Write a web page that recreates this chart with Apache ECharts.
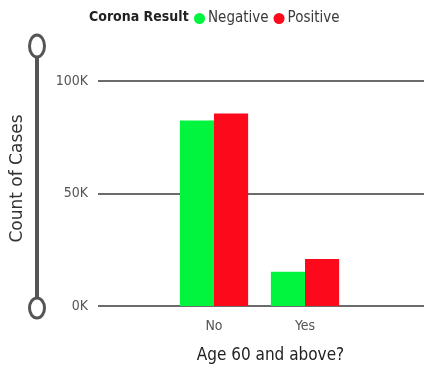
<!DOCTYPE html>
<html>
<head>
<meta charset="utf-8">
<script src="https://cdn.jsdelivr.net/npm/echarts@6/dist/echarts.min.js"></script>
<style>
  html, body { margin: 0; padding: 0; background: #fff; }
  #chart { width: 424px; height: 370px; }
</style>
</head>
<body>
<div id="chart"></div>
<script>
// Case counts split by age group and test result
const categories = ['No', 'Yes'];
const negativeCounts = [82400, 15200];
const positiveCounts = [85600, 20900];
const seriesNames = ['Negative', 'Positive'];
const yTicks = [0, 50000, 100000];

const narrow = '"Liberation Sans Narrow", "DejaVu Sans Condensed", sans-serif';

const chart = echarts.init(document.getElementById('chart'));
chart.setOption({
  animation: false,
  backgroundColor: '#fff',
  title: {
    text: 'Corona Result',
    left: 84, top: 5,
    textStyle: { fontFamily: narrow, fontWeight: 'bold', fontSize: 14, color: '#222' }
  },
  legend: {
    data: seriesNames,
    left: 189, top: 6,
    icon: 'circle',
    itemWidth: 11, itemHeight: 11, itemGap: 5,
    textStyle: { fontFamily: narrow, fontSize: 15, color: '#3a3a3a', padding: [0, 0, 0, -2] }
  },
  grid: [
    { left: 98, right: 0, top: 81, bottom: 64 },
    { left: 168.5, right: 73.5, top: 81, bottom: 64 }
  ],
  xAxis: [
    { type: 'value', gridIndex: 0, show: false, min: 0, max: 1 },
    {
      type: 'category', gridIndex: 1, data: categories,
      axisLine: { show: false }, axisTick: { show: false },
      axisLabel: { fontFamily: narrow, fontSize: 14, color: '#555', margin: 13 },
      name: 'Age 60 and above?', nameLocation: 'middle', nameGap: 41,
      nameTextStyle: { fontFamily: narrow, fontSize: 17, color: '#222', padding: [0, 0, 0, 22] }
    }
  ],
  yAxis: [
    {
      type: 'value', gridIndex: 0, min: yTicks[0], max: yTicks[yTicks.length - 1], interval: 50000,
      axisLine: { show: false }, axisTick: { show: false },
      axisLabel: { fontFamily: narrow, fontSize: 14, color: '#555', margin: 10,
        formatter: v => (v / 1000) + 'K' },
      splitLine: { lineStyle: { color: '#3a3a3a', width: 1.5 } },
      name: 'Count of Cases', nameLocation: 'middle', nameGap: 72,
      nameTextStyle: { fontFamily: '"DejaVu Sans", sans-serif', fontSize: 17, color: '#333', padding: [0, 0, 0, 30] }
    },
    {
      type: 'value', gridIndex: 1, min: yTicks[0], max: yTicks[yTicks.length - 1], interval: 50000,
      show: false, splitLine: { show: false }
    }
  ],
  series: [
    {
      name: seriesNames[0], type: 'bar', xAxisIndex: 1, yAxisIndex: 1,
      data: negativeCounts, barGap: '0%', barCategoryGap: '25%',
      itemStyle: { color: '#02F53E' }
    },
    {
      name: seriesNames[1], type: 'bar', xAxisIndex: 1, yAxisIndex: 1,
      data: positiveCounts, barGap: '0%', barCategoryGap: '25%',
      itemStyle: { color: '#FC0A1C' }
    }
  ],
  graphic: [
    // zoom slider track with its two handles
    { type: 'line', shape: { x1: 37, y1: 58, x2: 37, y2: 297 }, style: { stroke: '#555', lineWidth: 4 } },
    { type: 'ellipse', shape: { cx: 37, cy: 46, rx: 7.5, ry: 11 }, style: { fill: '#fff', stroke: '#555', lineWidth: 3 } },
    { type: 'ellipse', shape: { cx: 37, cy: 308, rx: 7.5, ry: 10 }, style: { fill: '#fff', stroke: '#555', lineWidth: 3 } }
  ]
});
</script>
</body>
</html>
